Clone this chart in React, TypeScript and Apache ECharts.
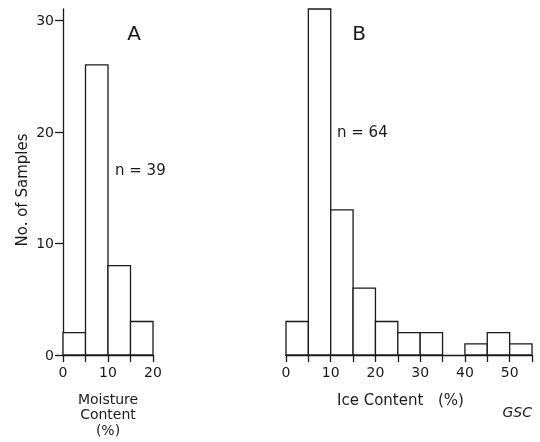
import React, { useEffect, useRef } from "react";
import * as echarts from "echarts";

const binEdgesA = [0, 5, 10, 15, 20];
const countsA = [2, 26, 8, 3];
const binEdgesB = [0, 5, 10, 15, 20, 25, 30, 35, 40, 45, 50, 55];
const countsB = [3, 31, 13, 6, 3, 2, 2, 0, 1, 2, 1];
const yTicks = [0, 10, 20, 30];
const xTicksA = [0, 5, 10, 15, 20];
const xLabelsA = [0, 10, 20];
const xTicksB = [0, 5, 10, 15, 20, 25, 30, 35, 40, 45, 50, 55];
const xLabelsB = [0, 10, 20, 30, 40, 50];

const FONT = "DejaVu Sans";
const INK = "#1a1a1a";

function toData(edges: number[], counts: number[]) {
  return counts.map((c, i) => [edges[i], edges[i + 1], c]);
}

function renderRect(params: any, api: any) {
  const x0 = api.value(0);
  const x1 = api.value(1);
  const c = api.value(2);
  if (c <= 0) return null;
  const p0 = api.coord([x0, c]);
  const p1 = api.coord([x1, 0]);
  return {
    type: "rect",
    shape: { x: p0[0], y: p0[1], width: p1[0] - p0[0], height: p1[1] - p0[1] },
    style: { fill: "#fff", stroke: INK, lineWidth: 1.3 },
  };
}

export default function App() {
  const ref = useRef<HTMLDivElement>(null);
  useEffect(() => {
    if (!ref.current) return;
    const chart = echarts.init(ref.current, undefined, { renderer: "svg" });
    const axisLine = { show: true, lineStyle: { color: INK, width: 1.3 } };
    const axisTick = { show: true, length: 7, lineStyle: { color: INK, width: 1.3 } };
    const xLabel = { fontFamily: FONT, fontSize: 14, color: INK, margin: 10 };
    const lbl = (text: string, x: number, y: number) => ({
      type: "text", x, y,
      style: { text, font: `14px ${FONT}`, fill: INK, align: "center", verticalAlign: "middle" },
    });
    chart.setOption({
      animation: false,
      grid: [
        { left: 63, top: 9, width: 90, bottom: 87 },
        { left: 286, top: 9, width: 246, bottom: 87 },
      ],
      xAxis: [
        {
          gridIndex: 0, type: "value", min: 0, max: 20, interval: 5,
          axisLine, axisTick: { ...axisTick, customValues: xTicksA },
          axisLabel: { ...xLabel, customValues: xLabelsA },
          splitLine: { show: false },
        },
        {
          gridIndex: 1, type: "value", min: 0, max: 55, interval: 5,
          axisLine, axisTick: { ...axisTick, customValues: xTicksB },
          axisLabel: { ...xLabel, customValues: xLabelsB },
          splitLine: { show: false },
        },
      ],
      yAxis: [
        {
          gridIndex: 0, type: "value", min: 0, max: 31,
          axisLine, axisTick: { ...axisTick, length: 8, customValues: yTicks },
          axisLabel: { fontFamily: FONT, fontSize: 14, color: INK, margin: 9, customValues: yTicks },
          splitLine: { show: false },
        },
        {
          gridIndex: 1, type: "value", min: 0, max: 31,
          axisLine: { show: false }, axisTick: { show: false },
          axisLabel: { show: false }, splitLine: { show: false },
        },
      ],
      series: [
        { type: "custom", xAxisIndex: 0, yAxisIndex: 0, data: toData(binEdgesA, countsA), renderItem: renderRect },
        { type: "custom", xAxisIndex: 1, yAxisIndex: 1, data: toData(binEdgesB, countsB), renderItem: renderRect },
      ],
      graphic: [
        { type: "text", x: 134, y: 33, style: { text: "A", font: `20px ${FONT}`, fill: INK, align: "center", verticalAlign: "middle" } },
        { type: "text", x: 359, y: 33, style: { text: "B", font: `20px ${FONT}`, fill: INK, align: "center", verticalAlign: "middle" } },
        { type: "text", x: 115, y: 170, style: { text: "n = 39", font: `15px ${FONT}`, fill: INK, align: "left", verticalAlign: "middle" } },
        { type: "text", x: 337, y: 132, style: { text: "n = 64", font: `15px ${FONT}`, fill: INK, align: "left", verticalAlign: "middle" } },
        { type: "text", x: 22, y: 190, rotation: Math.PI / 2, style: { text: "No. of Samples", font: `15px ${FONT}`, fill: INK, align: "center", verticalAlign: "middle" } },
        lbl("Moisture", 108, 398.5),
        lbl("Content", 108, 414),
        lbl("(%)", 108, 430),
        { type: "text", x: 337, y: 400, style: { text: "Ice Content", font: `15px ${FONT}`, fill: INK, align: "left", verticalAlign: "middle" } },
        { type: "text", x: 438, y: 400, style: { text: "(%)", font: `15px ${FONT}`, fill: INK, align: "left", verticalAlign: "middle" } },
        { type: "text", x: 532, y: 412, style: { text: "GSC", font: `italic 14px ${FONT}`, fill: INK, align: "right", verticalAlign: "middle" } },
      ],
    });
    return () => chart.dispose();
  }, []);
  return <div ref={ref} style={{ position: "fixed", left: 0, top: 0, width: 540, height: 442 }} />;
}
